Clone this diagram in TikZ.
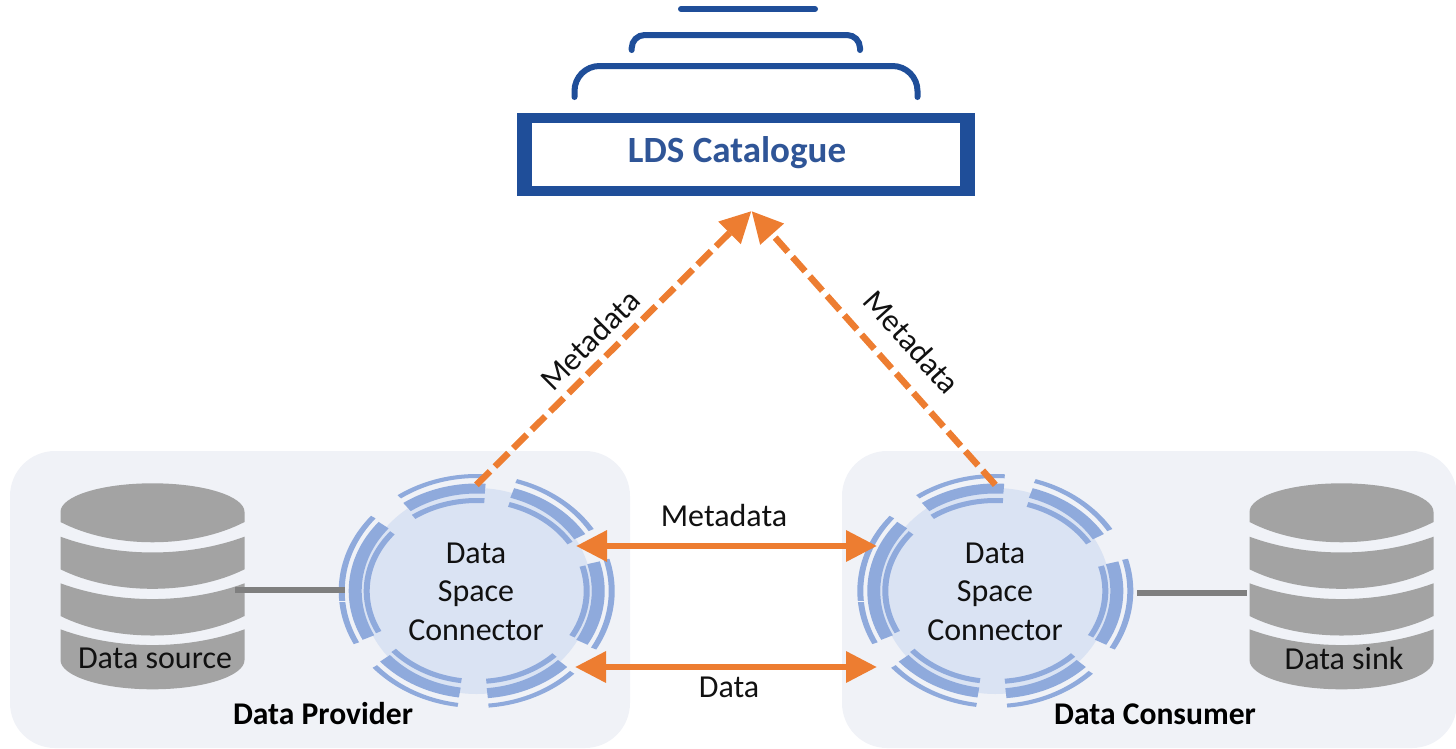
\documentclass[tikz,border=0pt]{standalone}
\usepackage{fontspec}
\setmainfont{Carlito}
\usetikzlibrary{arrows.meta,shapes.geometric}
\definecolor{panelc}{HTML}{F0F2F7}
\definecolor{diskc}{HTML}{DAE3F3}
\definecolor{ringc}{HTML}{8FAADC}
\definecolor{orangec}{HTML}{ED7D31}
\definecolor{dbc}{HTML}{A3A3A3}
\definecolor{linec}{HTML}{7F7F7F}
\definecolor{bluec}{HTML}{1F4E99}
\definecolor{bluet}{HTML}{2F5597}
\definecolor{inkc}{HTML}{111111}
\newcommand{\ringseg}[8]{% cx, cy, inner rx, inner ry, outer rx, outer ry, from, to
  \fill[ringc] plot[domain=#7:#8,samples=30] ({#1+#3*cos(\x)},{#2-#4*sin(\x)})
    -- plot[domain=#8:#7,samples=30] ({#1+#5*cos(\x)},{#2-#6*sin(\x)}) -- cycle;}
\newcommand{\threerings}[4]{%
  \ringseg{#1}{#2}{107}{88}{113}{93}{#3}{#4}
  \ringseg{#1}{#2}{115}{97.5}{128}{107.5}{#3}{#4}
  \ringseg{#1}{#2}{132}{113}{138}{117}{#3}{#4}}
\newcommand{\allrings}[2]{%
  \threerings{#1}{#2}{86}{125}
  \threerings{#1}{#2}{32}{73}
  \threerings{#1}{#2}{-30}{16}
  \threerings{#1}{#2}{-85}{-45}
  \threerings{#1}{#2}{221}{262}
  \threerings{#1}{#2}{140}{207}
  \draw[panelc,line width=1pt] ({#1-140},{#2+10.5}) -- ++(11,0);}
\newcommand{\dbband}[3]{% cx, top corner y, bottom corner y
  \fill[dbc] ({#1-92},#2) .. controls ({#1-35},{#2+21}) and ({#1+35},{#2+21}) .. ({#1+92},#2)
    -- ({#1+92},#3) .. controls ({#1+40},{#3+26}) and ({#1-40},{#3+26}) .. ({#1-92},#3) -- cycle;}
\newcommand{\dbshape}[1]{%
  \fill[dbc] ({#1-92},512) .. controls ({#1-92},496) and ({#1-51},483.3) .. (#1,483.3)
    .. controls ({#1+51},483.3) and ({#1+92},496) .. ({#1+92},512) -- ({#1+92},522)
    .. controls ({#1+40},549) and ({#1-40},549) .. ({#1-92},522) -- cycle;
  \dbband{#1}{536.7}{569.3}
  \dbband{#1}{583.3}{616}
  \fill[dbc] ({#1-92},629.3) .. controls ({#1-35},{650.3}) and ({#1+35},{650.3}) .. ({#1+92},629.3)
    -- ({#1+92},660) .. controls ({#1+92},676) and ({#1+51},689.3) .. (#1,689.3)
    .. controls ({#1-51},689.3) and ({#1-92},676) .. ({#1-92},660) -- cycle;}
\tikzset{
  panel/.style={fill=panelc,draw=none,rounded corners=45pt,inner sep=0pt},
  disk/.style={ellipse,fill=diskc,draw=none,minimum width=230pt,minimum height=206pt,inner sep=0pt,
    align=center,text=inkc,font=\fontsize{32}{38.5}\selectfont},
  lbl/.style={text=inkc,font=\fontsize{32}{36}\selectfont,inner sep=0pt},
  boldlbl/.style={text=black,font=\fontsize{31.6}{36}\selectfont\bfseries,inner sep=0pt},
  bracket/.style={draw=bluec,line width=6pt,line cap=round},
  solidarrow/.style={draw=orangec,line width=6.5pt,{Triangle[length=31pt,width=30pt,fill=orangec]}-{Triangle[length=31pt,width=30pt,fill=orangec]}},
  dasharrow/.style={draw=orangec,line width=6.5pt,dash pattern=on 19pt off 7pt,-{Triangle[length=31pt,width=30pt,fill=orangec]}},
  linkline/.style={draw=linec,line width=6pt}
}
\begin{document}
\begin{tikzpicture}[x=1pt,y=-1pt]
\useasboundingbox (0,0) rectangle (1456,748);
% panels
\node[panel,minimum width=620pt,minimum height=297pt] (prov) at (320,599.5) {};
\node[panel,minimum width=615pt,minimum height=297pt] (cons) at (1149.5,599.5) {};
% catalogue
\draw[bracket] (681,9) -- (815,9);
\draw[bracket,rounded corners=13pt] (631.7,50) -- (631.7,35) -- (860,35) -- (860,50);
\draw[bracket,rounded corners=25pt] (574.5,97) -- (574.5,66) -- (917.5,66) -- (917.5,97);
\node[fill=bluec,minimum width=458pt,minimum height=82.5pt,inner sep=0pt] (catouter) at (746.2,154.5) {};
\node[fill=white,minimum width=427.7pt,minimum height=62.4pt,inner sep=0pt] (cat) at (746.2,154.5) {};
\node[text=bluet,font=\fontsize{37}{42}\selectfont\bfseries,inner sep=0pt] (cattext) at (737,153) {LDS Catalogue};
% databases
\dbshape{152.5}
\dbshape{1341.5}
% data space connectors
\node[disk] (pdsc) at (476.5,591) {};
\node[disk] (cdsc) at (995.3,591) {};
\allrings{476.7}{591}
\allrings{995.3}{591}
\node[disk,fill=none] (pdsct) at (476,591.5) {Data\\Space\\Connector};
\node[disk,fill=none] (cdsct) at (995,591.5) {Data\\Space\\Connector};
% anchors for connectors
\coordinate (catTip) at (751.5,211);
\coordinate (pmeta) at (576,546);
\coordinate (cmeta) at (877,546);
\coordinate (pdata) at (575,667);
\coordinate (cdata) at (877,667);
\coordinate (srcEnd) at (235,590);
\coordinate (pdscW) at (345,590);
\coordinate (cdscE) at (1137,592.7);
\coordinate (sinkEnd) at (1247.3,592.7);
% connectors
\draw[linkline] (srcEnd) -- (pdscW);
\draw[linkline] (cdscE) -- (sinkEnd);
\draw[solidarrow] (pmeta) -- (cmeta);
\draw[solidarrow] (pdata) -- (cdata);
\draw[dasharrow] (pdsc.north) ++(0,-3) coordinate (pstart) (pstart) -- (catTip);
\draw[dasharrow] (cdsc.north) ++(0,-3) coordinate (cstart) (cstart) -- (catTip);
% labels
\node[lbl,rotate=45] (m1) at (590,340) {Metadata};
\node[lbl,rotate=-48] (m2) at (912,342) {Metadata};
\node[lbl] (m3) at (724,515.5) {Metadata};
\node[lbl] (d1) at (729,687) {Data};
\node[lbl] (srcl) at (155,658) {Data source};
\node[lbl] (sinkl) at (1344,658) {Data sink};
\node[boldlbl] (provl) at (323,714) {Data Provider};
\node[boldlbl] (consl) at (1155,714) {Data Consumer};
\end{tikzpicture}
\end{document}
